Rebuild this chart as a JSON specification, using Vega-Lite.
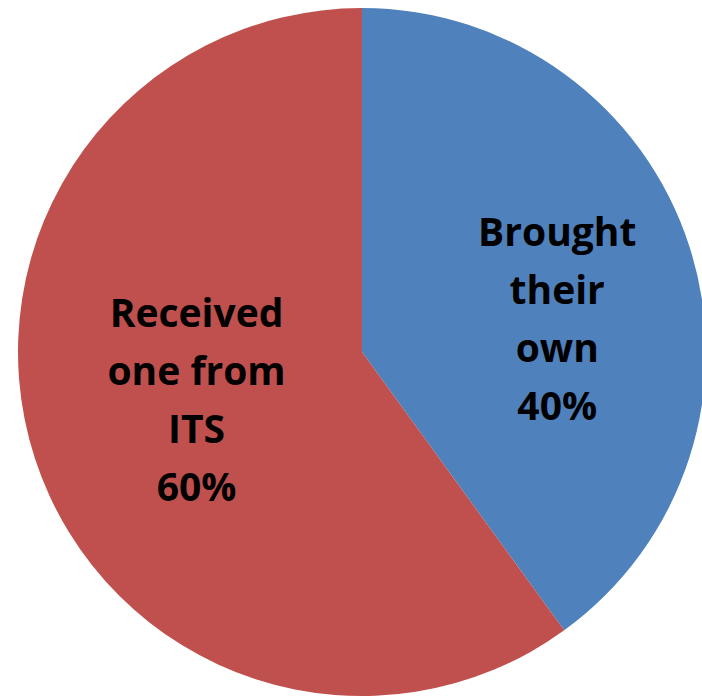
{
  "$schema": "https://vega.github.io/schema/vega-lite/v6.json",
  "autosize": {"type": "none"},
  "padding": {"left": 22, "top": 8, "right": 0, "bottom": 0},
  "width": 680,
  "height": 688,
  "background": "white",
  "config": {"view": {"stroke": null}},
  "data": {
    "values": [
      {"category": "Brought their own", "percent": 40, "label": "Brought|their|own|40%"},
      {"category": "Received one from ITS", "percent": 60, "label": "Received|one from|ITS|60%"}
    ]
  },
  "encoding": {
    "theta": {"field": "percent", "type": "quantitative", "stack": true},
    "color": {
      "field": "category",
      "type": "nominal",
      "scale": {"domain": ["Brought their own", "Received one from ITS"], "range": ["#4F81BD", "#C0504D"]},
      "legend": null
    }
  },
  "layer": [
    {"mark": {"type": "arc", "radius": 344}},
    {
      "mark": {"type": "text", "radius": 200, "dx": 5, "dy": -56, "font": "Open Sans", "fontWeight": "bold", "fontSize": 39, "lineHeight": 58, "lineBreak": "|", "align": "center", "baseline": "middle"},
      "encoding": {
        "text": {"condition": {"test": "datum.category === 'Brought their own'", "field": "label"}, "value": ""},
        "color": {"value": "black"}
      }
    },
    {
      "mark": {"type": "text", "radius": 175, "dx": 1, "dy": -91, "font": "Open Sans", "fontWeight": "bold", "fontSize": 39, "lineHeight": 58, "lineBreak": "|", "align": "center", "baseline": "middle"},
      "encoding": {
        "text": {"condition": {"test": "datum.category === 'Received one from ITS'", "field": "label"}, "value": ""},
        "color": {"value": "black"}
      }
    }
  ]
}
